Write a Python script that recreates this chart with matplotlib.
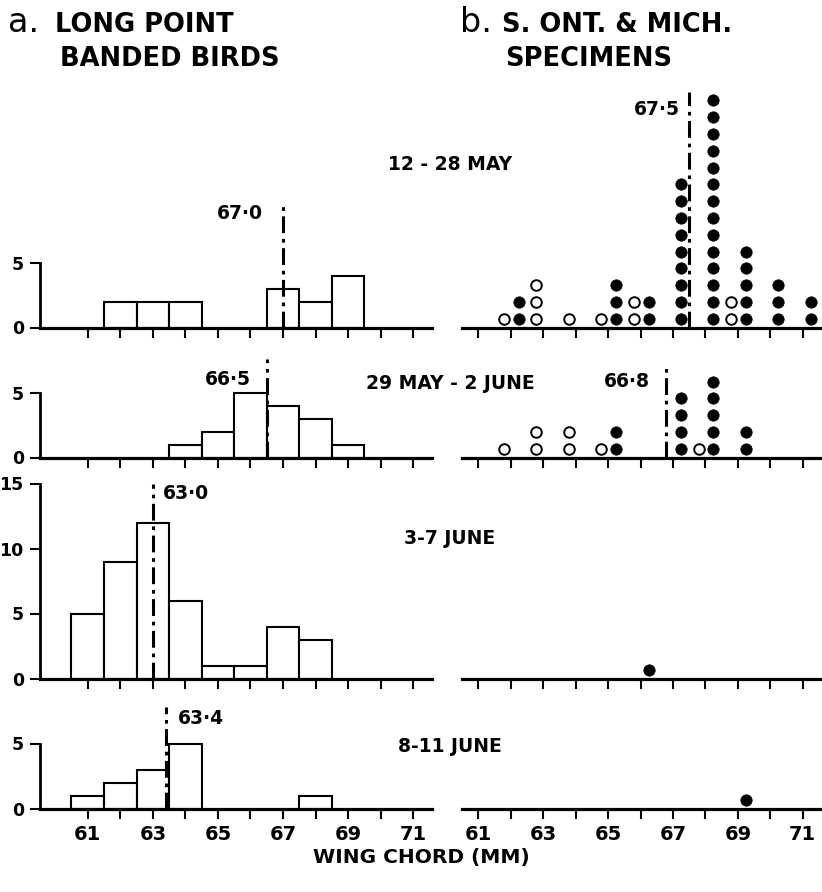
import matplotlib
matplotlib.use('Agg')
import matplotlib.pyplot as plt
import numpy as np

# ---------------- data ----------------
periods = ["12 - 28 MAY", "29 MAY - 2 JUNE", "3-7 JUNE", "8-11 JUNE"]

# a. Long Point banded birds (histograms, 1-mm classes)
banded_vals_1 = [62, 63, 64, 67, 68, 69]
banded_cnts_1 = [2, 2, 2, 3, 2, 4]
banded_vals_2 = [64, 65, 66, 67, 68, 69]
banded_cnts_2 = [1, 2, 5, 4, 3, 1]
banded_vals_3 = [61, 62, 63, 64, 65, 66, 67, 68]
banded_cnts_3 = [5, 9, 12, 6, 1, 1, 4, 3]
banded_vals_4 = [61, 62, 63, 64, 68]
banded_cnts_4 = [1, 2, 3, 5, 1]
banded_means = [67.0, 66.5, 63.0, 63.4]
banded_mean_labels = ["67\u00b70", "66\u00b75", "63\u00b70", "63\u00b74"]
banded_yticks = [[0, 5], [0, 5], [0, 5, 10, 15], [0, 5]]

# b. S. Ont. & Mich. specimens (dot plots: open / filled)
spec_vals_1 = [62, 63, 64, 65, 66, 67, 68, 69, 70, 71]
spec_open_1 = [1, 3, 1, 1, 2, 0, 0, 2, 0, 0]
spec_fill_1 = [2, 0, 0, 3, 2, 9, 14, 5, 3, 2]
spec_vals_2 = [62, 63, 64, 65, 67, 68, 69]
spec_open_2 = [1, 2, 2, 1, 0, 1, 0]
spec_fill_2 = [0, 0, 0, 2, 4, 5, 2]
spec_vals_3 = [66]
spec_open_3 = [0]
spec_fill_3 = [1]
spec_vals_4 = [69]
spec_open_4 = [0]
spec_fill_4 = [1]
spec_means = [67.5, 66.8, None, None]
spec_mean_labels = ["67\u00b75", "66\u00b78", None, None]

x_ticks = list(range(61, 72))
x_ticklabels = [str(v) if v % 2 == 1 else "" for v in x_ticks]

banded = [(banded_vals_1, banded_cnts_1), (banded_vals_2, banded_cnts_2),
          (banded_vals_3, banded_cnts_3), (banded_vals_4, banded_cnts_4)]
specs = [(spec_vals_1, spec_open_1, spec_fill_1), (spec_vals_2, spec_open_2, spec_fill_2),
         (spec_vals_3, spec_open_3, spec_fill_3), (spec_vals_4, spec_open_4, spec_fill_4)]

# ---------------- layout ----------------
W, H, DPI = 822, 892, 100
plt.rcParams['font.family'] = ['DejaVu Sans']
plt.rcParams['font.weight'] = 'bold'
fig = plt.figure(figsize=(W / DPI, H / DPI), dpi=DPI)
fig.patch.set_facecolor('white')

def fx(x):
    return x / W

def fy(y):
    return 1 - y / H

def px_axes(x0, x1, ytop, ybot):
    ax = fig.add_axes([x0 / W, 1 - ybot / H, (x1 - x0) / W, (ybot - ytop) / H])
    ax.patch.set_alpha(0)
    return ax

baselines = [327.5, 457.5, 678.5, 808.5]
left_tops = [185, 345, 470, 695]
right_tops = [85, 350, 600, 730]
LPU = 13.0      # px per count (left)
RPU = 16.8      # px per dot (right)

# left x scale: 61 at 87.7 px, 71 at 413.3 px
lsc = (413.3 - 87.7) / 10
lx0, lx1 = 40, 432
lxlim = (61 - (87.7 - lx0) / lsc, 61 + (lx1 - 87.7) / lsc)
# right x scale: 61 at 478.3, 71 at 802.7
rsc = (802.7 - 478.3) / 10
rx0, rx1 = 462, 822
rxlim = (61 - (478.3 - rx0) / rsc, 61 + (rx1 - 478.3) / rsc)

dash = (0, (5.5, 1.8, 1.2, 1.9))
TICKFS = 14

for i in range(4):
    base = baselines[i]
    # ---- left histogram ----
    ax = px_axes(lx0, lx1, left_tops[i], base)
    top = (base - left_tops[i]) / LPU
    ax.set_xlim(*lxlim)
    ax.set_ylim(0, top)
    vals, cnts = banded[i]
    ax.bar(vals, cnts, width=1.0, facecolor='white', edgecolor='black',
           linewidth=1.5, zorder=2)
    for s in ['top', 'right']:
        ax.spines[s].set_visible(False)
    ax.spines['bottom'].set_linewidth(2.3)
    ax.spines['left'].set_linewidth(2.0)
    ax.spines['left'].set_bounds(0, banded_yticks[i][-1])
    ax.set_yticks(banded_yticks[i])
    ax.set_yticklabels([str(v) for v in banded_yticks[i]], fontsize=12.5, fontweight='bold')
    ax.set_xticks(x_ticks)
    if i == 3:
        ax.set_xticklabels(x_ticklabels, fontsize=TICKFS, fontweight='bold')
    else:
        ax.set_xticklabels([])
    ax.tick_params(axis='x', direction='out', length=7.2, width=1.5, pad=5)
    ax.tick_params(axis='y', direction='out', length=7.2, width=1.5, pad=4.5)
    m = banded_means[i]
    mtop = [9.4, 7.6, 15.0, 7.8][i]
    ax.plot([m, m], [0, mtop], color='black', lw=2.2, linestyle=dash, zorder=3,
            clip_on=False)
    if i in (0, 1):
        off = [0.62, 0.5][i]
        ax.text(m - off, [8.8, 6.0][i], banded_mean_labels[i], ha='right', va='center',
                fontsize=13.5, fontweight='bold')
    else:
        off = [0.3, 0.37][i - 2]
        ax.text(m + off, [14.2, 6.9][i - 2], banded_mean_labels[i], ha='left', va='center',
                fontsize=13.5, fontweight='bold')

    # ---- right dot plot ----
    ax2 = px_axes(rx0, rx1, right_tops[i], base)
    rtop = (base - right_tops[i]) / RPU
    ax2.set_xlim(*rxlim)
    ax2.set_ylim(0, rtop)
    svals, sopen, sfill = specs[i]
    for v, no, nf in zip(svals, sopen, sfill):
        if no:
            ax2.plot(np.full(no, v - 0.21), np.arange(no) + 0.52, 'o', ms=7.6,
                     mfc='white', mec='black', mew=1.4, clip_on=False, zorder=3)
        if nf:
            ax2.plot(np.full(nf, v + 0.25), np.arange(nf) + 0.52, 'o', ms=8.2,
                     mfc='black', mec='black', mew=0.5, clip_on=False, zorder=3)
    for s in ['top', 'right', 'left']:
        ax2.spines[s].set_visible(False)
    ax2.spines['bottom'].set_linewidth(2.3)
    ax2.set_yticks([])
    ax2.set_xticks(x_ticks)
    if i == 3:
        ax2.set_xticklabels(x_ticklabels, fontsize=TICKFS, fontweight='bold')
    else:
        ax2.set_xticklabels([])
    ax2.tick_params(axis='x', direction='out', length=7.2, width=1.5, pad=5)
    if spec_means[i] is not None:
        m = spec_means[i]
        mtop = [14.0, 5.4][i]
        ax2.plot([m, m], [0, mtop], color='black', lw=2.2, linestyle=dash, zorder=2,
                 clip_on=False)
        off = [0.28, 0.52][i]
        ax2.text(m - off, [13.0, 4.5][i], spec_mean_labels[i], ha='right', va='center',
                 fontsize=13.5, fontweight='bold')

# period labels
period_y = [165, 383, 538, 746]
for lab, y in zip(periods, period_y):
    fig.text(fx(450), fy(y), lab, ha='center', va='center', fontsize=13.5,
             fontweight='bold')

# titles
TFS = 18.5
fig.text(fx(8), fy(32), "a.", ha='left', va='baseline', fontsize=24, fontweight='normal')
fig.text(fx(55), fy(32), "LONG POINT", ha='left', va='baseline', fontsize=TFS,
         fontweight='bold')
fig.text(fx(60), fy(66), "BANDED BIRDS", ha='left', va='baseline', fontsize=TFS,
         fontweight='bold')
fig.text(fx(460), fy(32), "b.", ha='left', va='baseline', fontsize=24, fontweight='normal')
fig.text(fx(502), fy(32), "S. ONT. & MICH.", ha='left', va='baseline', fontsize=TFS,
         fontweight='bold')
fig.text(fx(505), fy(66), "SPECIMENS", ha='left', va='baseline', fontsize=TFS,
         fontweight='bold')

# x axis title
fig.text(fx(421), fy(858), "WING CHORD (MM)", ha='center', va='center', fontsize=14.5,
         fontweight='bold')

fig.savefig('out.png', dpi=DPI, facecolor='white')
